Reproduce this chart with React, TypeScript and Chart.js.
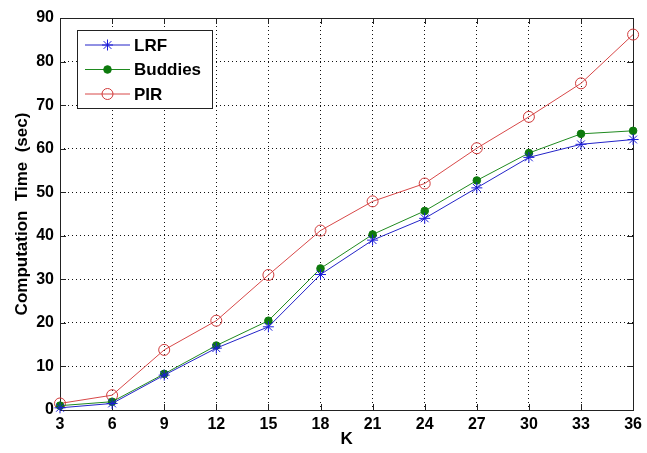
import React, { useEffect, useRef } from "react";
import { Chart, registerables } from "chart.js";

Chart.register(...registerables);

const kValues = [3, 6, 9, 12, 15, 18, 21, 24, 27, 30, 33, 36];
const lrfValues = [0.5, 1.5, 8.0, 14.2, 19.1, 31.1, 39.0, 44.0, 51.0, 58.0, 61.0, 62.1];
const buddiesValues = [1.0, 1.9, 8.3, 14.8, 20.5, 32.5, 40.3, 45.7, 52.7, 59.0, 63.4, 64.1];
const pirValues = [1.5, 3.4, 13.8, 20.5, 31.0, 41.2, 47.9, 52.0, 60.1, 67.3, 75.0, 86.2];
const seriesLabels = ["LRF", "Buddies", "PIR"];
const xTitle = "K";
const yTitle = "Computation  Time  (sec)";

const FONT = "'Liberation Sans', Arial, Helvetica, sans-serif";

const framePlugin = {
  id: "frame",
  beforeDatasetsDraw(chart: any) {
    const { ctx, chartArea } = chart;
    const { left, right, top, bottom } = chartArea;
    const xs = chart.scales.x;
    const ys = chart.scales.y;
    ctx.save();
    ctx.strokeStyle = "#222";
    ctx.lineWidth = 1;
    ctx.setLineDash([]);
    ctx.beginPath();
    xs.ticks.forEach((t: any) => {
      const px = Math.round(xs.getPixelForValue(t.value)) + 0.5;
      ctx.moveTo(px, bottom);
      ctx.lineTo(px, bottom - 6);
      ctx.moveTo(px, top);
      ctx.lineTo(px, top + 6);
    });
    ys.ticks.forEach((t: any) => {
      const py = Math.round(ys.getPixelForValue(t.value)) + 0.5;
      ctx.moveTo(left, py);
      ctx.lineTo(left + 6, py);
      ctx.moveTo(right, py);
      ctx.lineTo(right - 6, py);
    });
    ctx.stroke();
    ctx.strokeRect(Math.round(left) + 0.5, Math.round(top) + 0.5, Math.round(right - left), Math.round(bottom - top));
    ctx.restore();
  },
};

const legendPlugin = {
  id: "customLegend",
  afterDraw(chart: any) {
    const { ctx, chartArea } = chart;
    const bx = chartArea.left + 17;
    const by = chartArea.top + 12;
    const bw = 135;
    const bh = 78;
    ctx.save();
    ctx.fillStyle = "#fff";
    ctx.fillRect(bx, by, bw, bh);
    ctx.strokeStyle = "#222";
    ctx.lineWidth = 1;
    ctx.strokeRect(bx + 0.5, by + 0.5, bw, bh);
    chart.data.datasets.forEach((ds: any, i: number) => {
      const y = by + 15 + i * 24.5;
      const x0 = bx + 8;
      const x1 = bx + 53;
      const mx = (x0 + x1) / 2;
      ctx.strokeStyle = ds.borderColor;
      ctx.lineWidth = ds.borderWidth;
      ctx.beginPath();
      ctx.moveTo(x0, y);
      ctx.lineTo(x1, y);
      ctx.stroke();
      const r = ds.pointRadius;
      ctx.strokeStyle = ds.pointBorderColor;
      ctx.fillStyle = ds.pointBackgroundColor;
      ctx.lineWidth = ds.pointBorderWidth;
      if (ds.pointStyle === "star") {
        ctx.beginPath();
        for (let k = 0; k < 4; k++) {
          const a = (k * Math.PI) / 4;
          ctx.moveTo(mx - r * Math.cos(a), y - r * Math.sin(a));
          ctx.lineTo(mx + r * Math.cos(a), y + r * Math.sin(a));
        }
        ctx.stroke();
      } else {
        ctx.beginPath();
        ctx.arc(mx, y, r, 0, Math.PI * 2);
        ctx.fill();
        ctx.stroke();
      }
      ctx.fillStyle = "#000";
      ctx.font = `bold 17px ${FONT}`;
      ctx.textBaseline = "middle";
      ctx.textAlign = "left";
      ctx.fillText(ds.label, bx + 57, y + 1);
    });
    ctx.restore();
  },
};

export default function App() {
  const canvasRef = useRef<HTMLCanvasElement | null>(null);

  useEffect(() => {
    document.body.style.margin = "0";
    const canvas = canvasRef.current;
    if (!canvas) return;
    const mk = (arr: number[]) => kValues.map((k, i) => ({ x: k, y: arr[i] }));
    const chart = new Chart(canvas, {
      type: "line",
      data: {
        datasets: [
          {
            label: seriesLabels[0],
            data: mk(lrfValues),
            borderColor: "#2323c8",
            borderWidth: 1,
            pointStyle: "star",
            pointRadius: 5.5,
            pointBorderColor: "#1a1ad8",
            pointBackgroundColor: "#1a1ad8",
            pointBorderWidth: 1,
            clip: false,
          },
          {
            label: seriesLabels[1],
            data: mk(buddiesValues),
            borderColor: "#1f8a1f",
            borderWidth: 1,
            pointStyle: "circle",
            pointRadius: 3.8,
            pointBorderColor: "#0d7a0d",
            pointBackgroundColor: "#0d7a0d",
            pointBorderWidth: 1,
            clip: false,
          },
          {
            label: seriesLabels[2],
            data: mk(pirValues),
            borderColor: "#d84848",
            borderWidth: 1,
            pointStyle: "circle",
            pointRadius: 5.5,
            pointBorderColor: "#d03a3a",
            pointBackgroundColor: "rgba(255,255,255,0)",
            pointBorderWidth: 1,
            clip: false,
          },
        ],
      } as any,
      options: {
        animation: false,
        responsive: false,
        maintainAspectRatio: false,
        devicePixelRatio: 1,
        layout: { padding: { top: 18, right: 9, left: 0, bottom: 0 } },
        plugins: {
          legend: { display: false },
          tooltip: { enabled: false },
        },
        scales: {
          x: {
            type: "linear",
            min: 3,
            max: 36,
            afterFit: (s: any) => {
              s.height = 43;
            },
            ticks: {
              stepSize: 3,
              color: "#000",
              padding: 5,
              maxRotation: 0,
              font: { family: FONT, size: 16, weight: "bold" },
            },
            grid: {
              color: "#111",
              lineWidth: 1,
              drawTicks: false,
            },
            border: { display: false, dash: [1, 3] },
            title: {
              display: true,
              text: xTitle,
              color: "#000",
              font: { family: FONT, size: 17, weight: "bold" },
              padding: { top: 0, bottom: 3 },
            },
          },
          y: {
            type: "linear",
            min: 0,
            max: 90,
            afterFit: (s: any) => {
              s.width = 60;
            },
            ticks: {
              stepSize: 10,
              color: "#000",
              padding: 6,
              font: { family: FONT, size: 16, weight: "bold" },
            },
            grid: {
              color: "#111",
              lineWidth: 1,
              drawTicks: false,
            },
            border: { display: false, dash: [1, 3] },
            title: {
              display: true,
              text: yTitle,
              color: "#000",
              font: { family: FONT, size: 17, weight: "bold" },
              padding: { top: 12, bottom: 0 },
            },
          },
        },
      } as any,
      plugins: [framePlugin, legendPlugin],
    });
    return () => chart.destroy();
  }, []);

  return (
    <div style={{ width: 647, height: 453, background: "#fff" }}>
      <canvas ref={canvasRef} width={647} height={453} style={{ display: "block" }} />
    </div>
  );
}
